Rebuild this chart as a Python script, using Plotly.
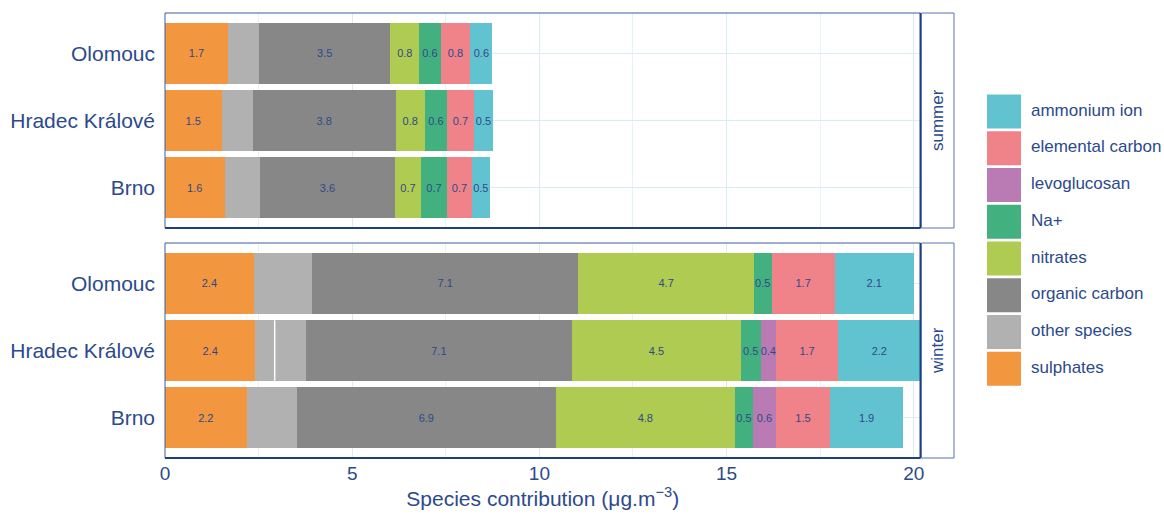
import plotly.graph_objects as go

# ---------------- data ----------------
cities = ["Olomouc", "Hradec Králové", "Brno"]
city_order_bottom_up = ["Brno", "Hradec Králové", "Olomouc"]
seasons = ["summer", "winter"]

# stacking order (left -> right)
species = ["sulphates", "other species", "organic carbon", "nitrates",
           "Na+", "levoglucosan", "elemental carbon", "ammonium ion"]
colors = ["#F39640", "#B1B1B1", "#878787", "#B0CB52",
          "#43B17F", "#BA7BB4", "#F0828A", "#62C3D0"]

# values per city (Olomouc, Hradec Králové, Brno)
summer_sulphates = [1.68, 1.51, 1.59]
summer_other = [0.83, 0.83, 0.95]
summer_oc = [3.51, 3.82, 3.60]
summer_nitrates = [0.77, 0.78, 0.70]
summer_na = [0.57, 0.59, 0.69]
summer_levo = [None, None, None]
summer_ec = [0.80, 0.72, 0.67]
summer_nh4 = [0.58, 0.51, 0.47]

winter_sulphates = [2.37, 2.41, 2.18]
# Hradec Králové winter "other species" consists of two records
winter_other_cities = ["Olomouc", "Hradec Králové", "Hradec Králové", "Brno"]
winter_other = [1.56, 0.52, 0.83, 1.34]
winter_oc = [7.11, 7.11, 6.92]
winter_nitrates = [4.69, 4.51, 4.78]
winter_na = [0.47, 0.53, 0.49]
winter_levo = [None, 0.41, 0.60]
winter_ec = [1.69, 1.66, 1.46]
winter_nh4 = [2.11, 2.20, 1.94]

x_ticks = [0, 5, 10, 15, 20]
x_title = "Species contribution (μg.m<sup>−3</sup>)"

summer = [summer_sulphates, summer_other, summer_oc, summer_nitrates,
          summer_na, summer_levo, summer_ec, summer_nh4]
winter = [winter_sulphates, winter_other, winter_oc, winter_nitrates,
          winter_na, winter_levo, winter_ec, winter_nh4]

# ---------------- style ----------------
FONT = "Liberation Sans, Arial, Helvetica, sans-serif"
NAVY = "#2b4a8c"
LABEL = "#2e4a86"
GRID = "#d9eef3"
GRID_MINOR = "#e6f4f7"
W, H = 1164, 515
BAR_WIDTH = 0.9

def px_x(p):
    return p / W

def px_y(p):
    return 1 - p / H

panel_x = [px_x(165), px_x(920.5)]
top_y = [px_y(228), px_y(13)]
bot_y = [px_y(458), px_y(243)]

fig = go.Figure()

def totals(season_vals, other_cities=None):
    t = {c: 0.0 for c in cities}
    for i, vals in enumerate(season_vals):
        cs = other_cities if (i == 1 and other_cities) else cities
        for c, v in zip(cs, vals):
            if v is not None:
                t[c] += v
    return max(t.values())

xmax = max(totals(summer), totals(winter, winter_other_cities))

for s_i, (season_vals, xa, ya) in enumerate([(summer, "x", "y"), (winter, "x2", "y2")]):
    for i, (name, col) in enumerate(zip(species, colors)):
        vals = season_vals[i]
        ys = winter_other_cities if (i == 1 and s_i == 1) else cities
        show_text = name != "other species"
        if show_text:
            kw = dict(texttemplate="%{x:.1f}", textposition="inside",
                      insidetextanchor="middle", textangle=0, constraintext="none",
                      textfont=dict(family=FONT, size=11, color=LABEL))
        else:
            kw = dict(textposition="none")
        fig.add_trace(go.Bar(
            x=vals, y=ys, orientation="h", name=name, width=BAR_WIDTH,
            marker=dict(color=col, line=dict(width=0)),
            xaxis=xa, yaxis=ya, showlegend=False, hoverinfo="x+y+name", **kw,
        ))

# legend built as its own small panel
legend_order = list(reversed(species))
legend_colors = list(reversed(colors))
fig.add_trace(go.Scatter(
    x=[0] * len(legend_order), y=legend_order, mode="markers",
    marker=dict(symbol="square", size=34, color=legend_colors, line=dict(width=0)),
    xaxis="x3", yaxis="y3", showlegend=False, hoverinfo="skip",
))
fig.add_trace(go.Scatter(
    x=[1] * len(legend_order), y=legend_order, mode="text", text=legend_order,
    textposition="middle right",
    textfont=dict(family=FONT, size=17, color=NAVY),
    xaxis="x3", yaxis="y3", showlegend=False, hoverinfo="skip",
))

common_x = dict(
    range=[0, xmax], domain=panel_x, tickvals=x_ticks, showgrid=True,
    gridcolor=GRID, gridwidth=1, zeroline=False, showline=False,
    minor=dict(dtick=2.5, showgrid=True, gridcolor=GRID_MINOR, gridwidth=1),
    fixedrange=True, automargin=False,
)
common_y = dict(
    type="category", categoryorder="array", categoryarray=city_order_bottom_up,
    range=[-0.6, 2.6], showgrid=True, gridcolor=GRID, zeroline=False,
    showline=False, tickfont=dict(family=FONT, size=21, color=NAVY),
    ticks="", ticklabelstandoff=9, fixedrange=True, automargin=False,
)

fig.update_layout(
    width=W, height=H, barmode="stack",
    margin=dict(l=0, r=0, t=0, b=0, autoexpand=False),
    paper_bgcolor="white", plot_bgcolor="white",
    font=dict(family=FONT, color=NAVY),
    xaxis=dict(common_x, anchor="y", showticklabels=False),
    yaxis=dict(common_y, domain=top_y, anchor="x"),
    xaxis2=dict(common_x, anchor="y2", showticklabels=True,
                tickfont=dict(family=FONT, size=19, color=NAVY),
                ticks="", ticklabelstandoff=2,
                title=dict(text=x_title, font=dict(family=FONT, size=21, color=NAVY),
                           standoff=7)),
    yaxis2=dict(common_y, domain=bot_y, anchor="x2"),
    xaxis3=dict(domain=[px_x(980), 1.0], range=[-0.889, 5.926], visible=False,
                fixedrange=True, automargin=False),
    yaxis3=dict(domain=[px_y(387), px_y(93)], type="category",
                categoryorder="array", categoryarray=list(reversed(legend_order)),
                range=[-0.5, 7.5], visible=False, fixedrange=True, automargin=False),
    showlegend=False,
)

shapes = []
annotations = []

# white separator between the two "other species" records of Hradec Králové (winter)
sep_city = winter_other_cities[1]
sep_idx = city_order_bottom_up.index(sep_city)
sep_x = winter_sulphates[cities.index(sep_city)] + winter_other[1]
shapes.append(dict(type="line", xref="x2", yref="y2",
                   x0=sep_x, x1=sep_x,
                   y0=sep_idx - BAR_WIDTH / 2, y1=sep_idx + BAR_WIDTH / 2,
                   line=dict(color="white", width=1.5), layer="above"))

for (ya_dom, label) in [(top_y, "summer"), (bot_y, "winter")]:
    # panel border
    shapes.append(dict(type="rect", xref="paper", yref="paper",
                       x0=panel_x[0], x1=panel_x[1], y0=ya_dom[0], y1=ya_dom[1],
                       line=dict(color="#3d5c9e", width=1), layer="above"))
    shapes.append(dict(type="line", xref="paper", yref="paper",
                       x0=panel_x[1], x1=panel_x[1], y0=ya_dom[0], y1=ya_dom[1],
                       line=dict(color="#1f3f7f", width=2), layer="above"))
    shapes.append(dict(type="line", xref="paper", yref="paper",
                       x0=panel_x[0], x1=panel_x[1], y0=ya_dom[0], y1=ya_dom[0],
                       line=dict(color="#1f3f7f", width=2), layer="above"))
    # strip
    shapes.append(dict(type="rect", xref="paper", yref="paper",
                       x0=px_x(921.5), x1=px_x(954), y0=ya_dom[0], y1=ya_dom[1],
                       line=dict(color="#5b75ad", width=1), fillcolor="white",
                       layer="above"))
    annotations.append(dict(xref="paper", yref="paper",
                            x=px_x(937.5), y=(ya_dom[0] + ya_dom[1]) / 2,
                            xanchor="center", yanchor="middle",
                            text=label, showarrow=False, textangle=-90,
                            font=dict(family=FONT, size=17, color=NAVY)))

fig.update_layout(shapes=shapes, annotations=annotations)

fig.write_html("out.html",
               config={"displayModeBar": False},
               post_script="document.body.style.margin='0px';"
                           "document.body.style.overflow='hidden';")
